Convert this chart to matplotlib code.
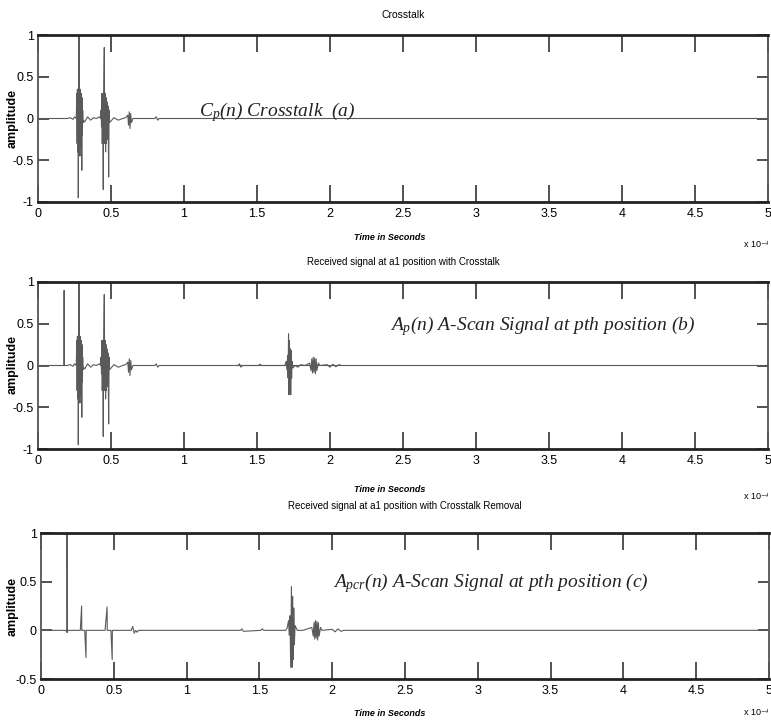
import matplotlib
matplotlib.use("Agg")
import matplotlib.pyplot as plt

plt.rcParams['mathtext.fontset'] = 'custom'
plt.rcParams['mathtext.it'] = 'Liberation Serif:italic'
plt.rcParams['mathtext.rm'] = 'Liberation Serif:italic'

# ---------------- data (time in units of 1e-4 s) ----------------
crosstalk_t = [0, 0.20, 0.22, 0.24, 0.25, 0.262, 0.266, 0.268, 0.270, 0.272, 0.274, 0.276,
               0.279, 0.281, 0.283, 0.285, 0.287, 0.289, 0.291, 0.293, 0.295, 0.297,
               0.300, 0.302, 0.304, 0.306, 0.308, 0.31, 0.32, 0.34, 0.36, 0.38, 0.40,
               0.42, 0.43, 0.432, 0.435, 0.438, 0.440, 0.443, 0.447, 0.450, 0.454,
               0.457, 0.460, 0.463, 0.466, 0.469, 0.472, 0.476, 0.480, 0.484, 0.487,
               0.490, 0.50, 0.52, 0.55, 0.58, 0.60, 0.615, 0.62, 0.625, 0.63, 0.635,
               0.64, 0.65, 0.80, 0.81, 0.82, 0.83, 5.0]
crosstalk_a = [0, 0, 0.01, -0.01, 0.02, 0.0, 0.3, -0.3, 0.35, -0.4, 0.35, -0.95,
               0.35, 1.0, -0.35, 0.35, -0.45, 0.35, -0.35, 0.3, -0.35, 0.3,
               -0.62, 0.25, -0.2, 0.1, -0.05, -0.02, -0.04, 0.02, -0.02, 0.01, 0.0,
               0.02, 0.0, 0.1, -0.1, 0.3, -0.3, 0.3, -0.85, 0.3, 0.85,
               -0.3, 0.3, -0.4, 0.25, -0.3, 0.2, -0.25, 0.15, -0.7, 0.1,
               -0.05, -0.03, 0.01, -0.02, 0.0, 0.01, 0.04, -0.08, 0.08, -0.12, 0.06,
               -0.05, 0.0, 0.0, 0.02, -0.02, 0.0, 0.0]

spike_t = [0.178, 0.179, 0.180]
spike_b = [0.0, 0.9, 0.0]

echo_t = [1.37, 1.38, 1.39, 1.40, 1.51, 1.52, 1.53, 1.69, 1.70, 1.705, 1.71, 1.713,
          1.716, 1.719, 1.722, 1.725, 1.728, 1.731, 1.734, 1.737, 1.74, 1.745, 1.76,
          1.78, 1.80, 1.83, 1.86, 1.87, 1.875, 1.88, 1.885, 1.89, 1.895, 1.90, 1.905,
          1.91, 1.92, 1.93, 1.98, 2.0, 2.02, 2.04, 2.06, 2.08]
echo_b = [0.0, 0.02, -0.02, 0.0, 0.0, 0.015, 0.0, 0.0, 0.05, -0.05, 0.12, -0.15,
          0.38, -0.35, 0.3, -0.3, 0.2, -0.35, 0.18, -0.15, 0.05, -0.03, 0.0,
          -0.02, 0.01, 0.0, 0.03, -0.06, 0.08, -0.09, 0.1, -0.08, 0.09, -0.1, 0.08,
          -0.06, 0.03, 0.0, 0.01, -0.02, 0.015, -0.015, 0.01, 0.0]

removed_t = [0, 0.17, 0.178, 0.179, 0.181, 0.185,
             0.27, 0.279, 0.280, 0.281, 0.30,
             0.309, 0.310, 0.311, 0.44,
             0.454, 0.455, 0.456, 0.48,
             0.489, 0.490, 0.491, 0.62,
             0.63, 0.64, 0.65, 0.66, 0.67, 1.37,
             1.38, 1.39, 1.51, 1.52, 1.53, 1.68,
             1.69, 1.70, 1.705, 1.71, 1.715, 1.72, 1.724, 1.728, 1.732, 1.736,
             1.74, 1.745, 1.76, 1.80, 1.86, 1.87, 1.875, 1.88, 1.885, 1.89, 1.895,
             1.90, 1.905, 1.91, 1.92, 1.93, 2.0, 2.02, 2.04, 2.06, 2.08, 5.0]
removed_a = [0, 0, -0.02, 1.0, -0.02, 0.0,
             0.0, 0.25, 0.0, 0.0, 0.0,
             -0.28, 0.0, 0.0, 0.0,
             0.24, 0.0, 0.0, 0.0,
             -0.3, 0.0, 0.0, 0.0,
             0.04, -0.03, 0.0, -0.02, 0.0, 0.0,
             0.015, -0.01, 0.0, 0.015, 0.0, 0.0,
             0.02, 0.1, -0.05, 0.15, -0.38, 0.45, -0.38, 0.35, -0.3, 0.23,
             -0.15, 0.05, 0.0, 0.0, 0.03, -0.06, 0.08, -0.09, 0.1, -0.08, 0.09,
             -0.1, 0.08, -0.06, 0.03, 0.0, 0.01, -0.015, 0.015, -0.01, 0.0, 0.0]

xticks = [0, 0.5, 1, 1.5, 2, 2.5, 3, 3.5, 4, 4.5, 5]
xticklabels = ['0', '0.5', '1', '1.5', '2', '2.5', '3', '3.5', '4', '4.5', '5']
yticks_full = [-1, -0.5, 0, 0.5, 1]
yticks_c = [-0.5, 0, 0.5, 1]

titles = ['Crosstalk', 'Received signal at a1 position with Crosstalk',
          'Received signal at a1 position with Crosstalk Removal']

# ---------------- figure ----------------
W, H = 771, 723
fig = plt.figure(figsize=(W / 100, H / 100), dpi=100)

def rect(l, t, r, b):
    return [l / W, 1 - b / H, (r - l) / W, (b - t) / H]

sans = ['Liberation Sans', 'DejaVu Sans']
col = '#5a5a5a'

ax1 = fig.add_axes(rect(38, 35, 768, 202))
ax2 = fig.add_axes(rect(38, 282, 768, 449))
ax3 = fig.add_axes(rect(41, 533, 769, 679))

ax1.plot(crosstalk_t, crosstalk_a, color=col, lw=0.8)
ax2.plot(crosstalk_t, crosstalk_a, color=col, lw=0.8)
ax2.plot(spike_t, spike_b, color=col, lw=0.8)
ax2.plot(echo_t, echo_b, color=col, lw=0.8)
ax3.plot(removed_t, removed_a, color=col, lw=0.8)

panels = [(ax1, yticks_full, (-1, 1), titles[0], 118, 12, 7.5),
          (ax2, yticks_full, (-1, 1), titles[1], 365, 12, 7),
          (ax3, yticks_c, (-0.5, 1), titles[2], 606, 17, 7)]
for ax, yt, yl, title, ylab_y, tpad, tfs in panels:
    ax.set_xlim(0, 5)
    ax.set_ylim(*yl)
    ax.set_xticks(xticks)
    ax.set_xticklabels(xticklabels, family=sans, fontsize=9)
    ax.set_yticks(yt)
    ax.set_yticklabels([('%g' % v) for v in yt], family=sans, fontsize=9)
    ax.tick_params(axis='x', direction='in', length=12, width=1.2, top=True,
                   color='#333333', pad=4)
    ax.tick_params(axis='y', direction='in', length=8, width=1.2, right=True,
                   color='#333333', pad=3)
    for s in ax.spines.values():
        s.set_linewidth(1.3)
        s.set_color('#555555')
    ax.spines['top'].set_linewidth(2.0)
    ax.spines['bottom'].set_linewidth(2.0)
    ax.spines['top'].set_color('#222222')
    ax.spines['bottom'].set_color('#222222')
    ax.set_title(title, family=sans, fontsize=tfs, pad=tpad)
    fig.text(13 / W, 1 - ylab_y / H, 'amplitude', rotation=90, ha='center',
             va='center', fontweight='bold', fontsize=9, family=sans)

# x labels and exponent texts
for yl, ye in [(238, 244), (489, 497), (713, 712)]:
    fig.text(390 / W, 1 - yl / H, 'Time in Seconds', ha='center', va='center',
             fontsize=6.5, style='italic', fontweight='bold', family=sans)
    fig.text(769 / W, 1 - ye / H, r'x 10$^{-4}$', ha='right', va='center',
             fontsize=6.5, family=sans)

ax1.text(0.221, 0.515, r'$C_p$(n) Crosstalk  (a)', transform=ax1.transAxes,
         va='baseline', fontsize=14, family='Liberation Serif', style='italic',
         color='#222222')
ax2.text(0.482, 0.713, r'$A_p$(n) A-Scan Signal at pth position (b)',
         transform=ax2.transAxes, va='baseline', fontsize=14,
         family='Liberation Serif', style='italic', color='#222222')
ax3.text(0.401, 0.63, r'$A_{pcr}$(n) A-Scan Signal at pth position (c)',
         transform=ax3.transAxes, va='baseline', fontsize=14,
         family='Liberation Serif', style='italic', color='#222222')

fig.savefig('out.png', dpi=100)
